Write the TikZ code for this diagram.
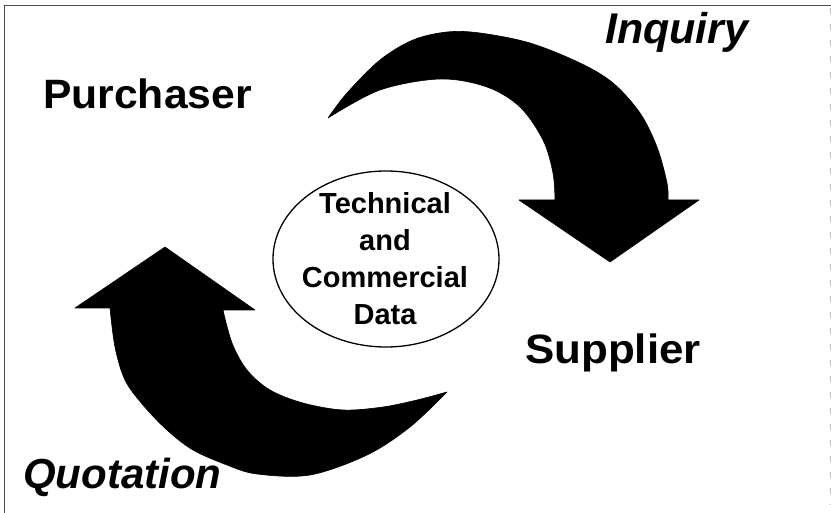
\documentclass[tikz,border=0pt]{standalone}
\usepackage{graphicx}
\usepackage{fontspec}
\setmainfont{Liberation Sans}
\begin{document}
\begin{tikzpicture}[x=1pt,y=-1pt,
  lbl/.style={inner sep=0pt, font=\fontsize{41}{41}\selectfont\bfseries},
  ilbl/.style={inner sep=0pt, font=\fontsize{43}{43}\selectfont\bfseries\itshape},
  datatext/.style={align=center, inner sep=0pt, font=\fontsize{29}{37}\selectfont\bfseries},
  bigarrow/.style={fill=black, draw=black, line width=0.6pt, line join=round}]
\useasboundingbox (0,0) rectangle (831,513);
\fill[white] (0,0) rectangle (831,513);
% frame
\draw[black!70, line width=0.9pt] (4,513) -- (4,5) -- (831,5);
\draw[black!25, line width=0.6pt, dash pattern=on 6pt off 10pt] (830,8) -- (830,505);

% top arrow (Inquiry)
\filldraw[bigarrow]
  plot[smooth, tension=0.55] coordinates {(328,118) (347,93) (380,60) (413,40) (447,32) (480,33) (530,43) (580,63) (613,83) (640,113) (657,147) (667,183) (668,200)}
  -- (699,200) -- (610,262) -- (519,200) -- (555,200)
  -- plot[smooth, tension=0.55] coordinates {(555,200) (553,173) (543,140) (520,107) (487,87) (440,79) (380,90) (328,118)}
  -- cycle;

% bottom arrow (Quotation)
\filldraw[bigarrow]
  plot[smooth, tension=0.55] coordinates {(447,392) (410,427) (367,455) (310,475) (257,474) (227,465) (193,450) (167,430) (143,405) (125,380) (115,347) (110,308)}
  -- (75,308) -- (165,247) -- (255,310) -- (223,310)
  -- plot[smooth, tension=0.55] coordinates {(223,310) (232,343) (247,370) (270,390) (303,403) (343,410) (383,407) (417,400) (447,392)}
  -- cycle;

% central ellipse
\draw[line width=1.3pt] (386,259) ellipse [x radius=113, y radius=88];
\node[datatext] (data) at (385,259) {Technical\\and\\Commercial\\Data};

% labels
\node[lbl, anchor=base west] (purch) at (43,109) {\scalebox{1.04}[1]{Purchaser}};
\node[lbl, anchor=base west] (supp) at (525,363) {\scalebox{1.07}[1]{Supplier}};
\node[ilbl, anchor=base west] (inq) at (605,44) {Inquiry};
\node[ilbl, anchor=base west, font=\fontsize{42}{42}\selectfont\bfseries\itshape] (quot) at (23,488) {Quotation};
\end{tikzpicture}
\end{document}
